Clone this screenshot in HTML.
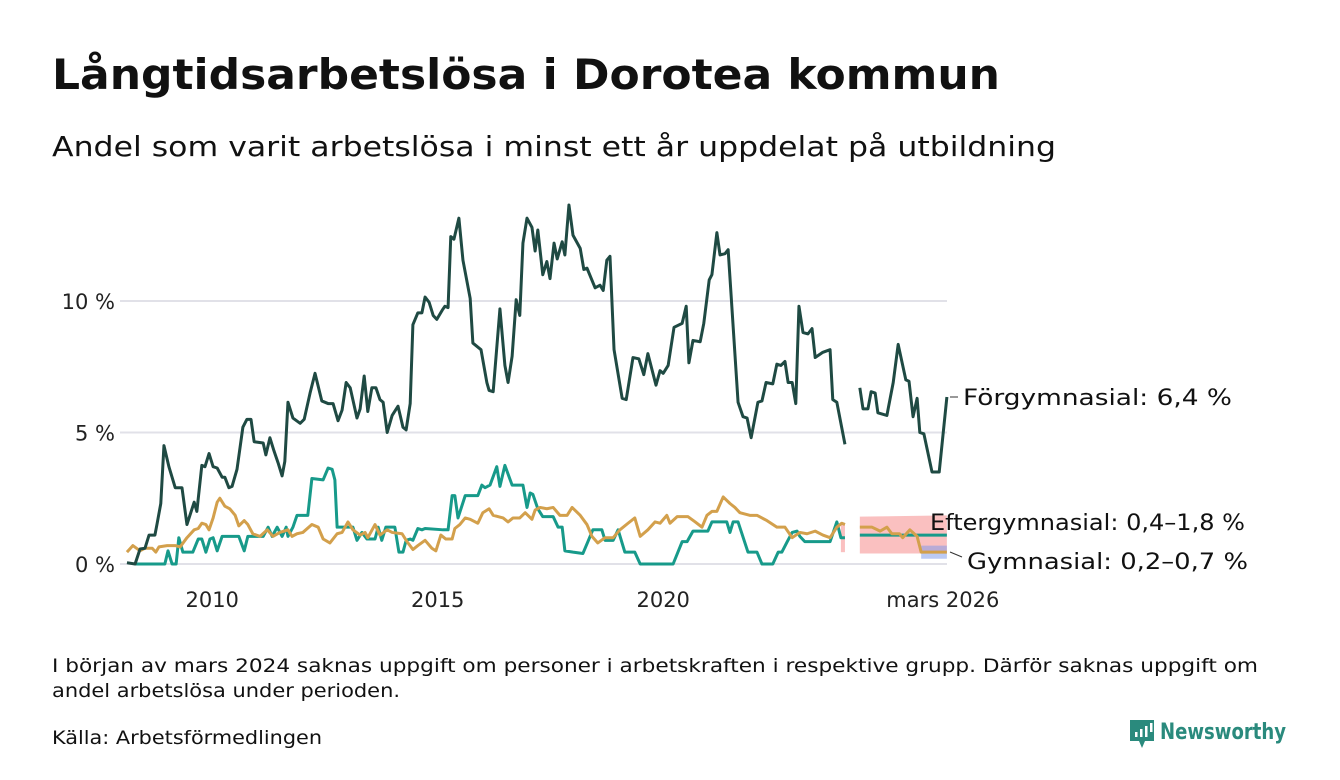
<!DOCTYPE html>
<html><head><meta charset="utf-8"><style>
html,body{margin:0;padding:0;background:#fff}
svg{display:block;font-family:"DejaVu Sans","Liberation Sans",sans-serif}
</style></head><body>
<svg id="chart" width="1340" height="780" viewBox="0 0 1340 780">
<text x="52" y="89" font-size="42" font-weight="bold" fill="#111" textLength="948" lengthAdjust="spacingAndGlyphs">Långtidsarbetslösa i Dorotea kommun</text>
<text x="52" y="156" font-size="28" fill="#111" textLength="1004" lengthAdjust="spacingAndGlyphs">Andel som varit arbetslösa i minst ett år uppdelat på utbildning</text>
<g id="grid"></g>
<g id="bands"></g>
<g id="lines"></g>
<g id="axes"></g>
<line x1="950" y1="397" x2="958" y2="397" stroke="#333" stroke-width="1"/>
<text x="963" y="405" font-size="22" fill="#111" textLength="269" lengthAdjust="spacingAndGlyphs">Förgymnasial: 6,4 %</text>
<text x="930" y="530" font-size="22" fill="#111" textLength="315" lengthAdjust="spacingAndGlyphs">Eftergymnasial: 0,4–1,8 %</text>
<line x1="950" y1="552" x2="962" y2="557" stroke="#333" stroke-width="1"/>
<text x="967" y="569" font-size="22" fill="#111" textLength="281" lengthAdjust="spacingAndGlyphs">Gymnasial: 0,2–0,7 %</text>
<text x="52" y="672" font-size="19" fill="#111" textLength="1206" lengthAdjust="spacingAndGlyphs">I början av mars 2024 saknas uppgift om personer i arbetskraften i respektive grupp. Därför saknas uppgift om</text>
<text x="52" y="697" font-size="19" fill="#111" textLength="348" lengthAdjust="spacingAndGlyphs">andel arbetslösa under perioden.</text>
<text x="52" y="744" font-size="19" fill="#111" textLength="270" lengthAdjust="spacingAndGlyphs">Källa: Arbetsförmedlingen</text>
<g>
<path d="M1130 720 h24 v21 h-9 l-3 7 l-3 -7 h-9 z" fill="#2a8a7d"/>
<rect x="1135" y="732" width="2.5" height="5" fill="#fff"/><rect x="1140" y="729" width="2.5" height="8" fill="#fff"/><rect x="1145" y="726" width="2.5" height="11" fill="#fff"/><rect x="1150" y="723" width="2.5" height="9" fill="#fff"/>
<text x="1160" y="739" font-size="22" font-weight="bold" fill="#2a8a7d" textLength="126" lengthAdjust="spacingAndGlyphs">Newsworthy</text>
</g>
</svg>
<script>
// time in years since 2008
const forT=[0.11,0.29,0.40,0.51,0.60,0.73,0.78,0.86,0.93,1.04,1.18,1.33,1.44,1.60,1.66,1.77,1.84,1.93,2.02,2.11,2.22,2.28,2.37,2.44,2.55,2.68,2.77,2.86,2.93,3.13,3.19,3.28,3.37,3.46,3.55,3.61,3.68,3.79,3.95,4.04,4.17,4.28,4.43,4.57,4.68,4.79,4.88,4.97,5.06,5.21,5.28,5.37,5.45,5.54,5.63,5.72,5.79,5.88,5.99,6.12,6.23,6.30,6.39,6.45,6.56,6.65,6.72,6.81,6.90,6.98,7.10,7.16,7.23,7.29,7.36,7.47,7.56,7.72,7.78,7.96,8.09,8.14,8.23,8.38,8.49,8.56,8.65,8.74,8.82,8.89,8.98,9.09,9.16,9.22,9.33,9.42,9.49,9.58,9.65,9.76,9.82,9.91,10.00,10.16,10.24,10.31,10.49,10.60,10.67,10.75,10.82,10.91,11.09,11.18,11.33,11.46,11.57,11.66,11.84,11.93,12.00,12.11,12.24,12.42,12.51,12.57,12.66,12.82,12.90,13.02,13.08,13.19,13.26,13.37,13.44,13.66,13.77,13.86,13.95,14.10,14.19,14.28,14.43,14.52,14.61,14.70,14.77,14.86,14.94,15.01,15.10,15.21,15.30,15.37,15.54,15.70,15.76,15.85,16.03,16.2,16.36,16.43,16.54,16.61,16.70,16.76,16.96,17.10,17.21,17.38,17.45,17.54,17.63,17.69,17.78,17.96,18.12,18.29];
const forV=[0.05,0,0.57,0.6,1.1,1.1,1.55,2.3,4.5,3.7,2.9,2.9,1.5,2.35,2.0,3.75,3.7,4.2,3.7,3.65,3.3,3.3,2.9,2.95,3.6,5.2,5.5,5.5,4.65,4.6,4.15,4.8,4.3,3.85,3.35,3.9,6.15,5.55,5.35,5.5,6.5,7.25,6.2,6.1,6.1,5.45,5.85,6.9,6.7,5.55,5.9,7.15,5.8,6.7,6.7,6.25,6.15,5.0,5.65,6.0,5.2,5.1,6.1,9.1,9.55,9.55,10.15,9.95,9.45,9.3,9.65,9.8,9.75,12.45,12.35,13.15,11.55,10.1,8.4,8.15,6.9,6.6,6.55,9.7,7.55,6.9,7.9,10.05,9.45,12.2,13.15,12.8,11.9,12.7,11.0,11.5,10.85,12.2,11.6,12.25,11.75,13.65,12.5,12.0,11.2,11.25,10.5,10.6,10.4,11.55,11.7,8.15,6.3,6.25,7.85,7.8,7.2,8.0,6.8,7.35,7.25,7.55,9.0,9.15,9.8,7.65,8.5,8.45,9.15,10.8,11.0,12.6,11.75,11.8,11.95,6.15,5.6,5.55,4.8,6.15,6.2,6.9,6.85,7.6,7.55,7.7,6.9,6.9,6.1,9.8,8.8,8.75,8.95,7.85,8.05,8.15,6.25,6.15,4.55,null,6.7,5.9,5.9,6.55,6.5,5.75,5.65,6.9,8.35,7.0,6.95,5.6,6.3,5.0,4.95,3.5,3.5,6.35];
const eftT=[0.29,0.95,1.02,1.11,1.20,1.26,1.35,1.57,1.69,1.77,1.86,1.95,2.02,2.11,2.22,2.59,2.71,2.79,3.13,3.24,3.33,3.44,3.55,3.64,3.68,3.79,3.88,4.12,4.21,4.46,4.57,4.66,4.72,4.77,5.12,5.21,5.32,5.43,5.61,5.68,5.76,5.85,6.05,6.14,6.23,6.30,6.39,6.45,6.56,6.65,6.72,7.12,7.23,7.32,7.38,7.45,7.61,7.89,7.98,8.05,8.16,8.31,8.38,8.49,8.65,8.89,8.98,9.05,9.11,9.22,9.33,9.56,9.67,9.76,9.82,10.00,10.22,10.33,10.44,10.64,10.71,10.89,11.00,11.15,11.37,11.49,12.22,12.42,12.53,12.66,12.99,13.08,13.41,13.48,13.55,13.66,13.88,14.08,14.19,14.43,14.55,14.63,14.75,14.86,14.97,15.03,15.14,15.70,15.85,15.94,16.03,16.2,16.36,18.29];
const eftV=[0,0,0.5,0,0,1.0,0.45,0.45,0.95,0.95,0.45,0.95,1.0,0.5,1.05,1.05,0.5,1.05,1.05,1.4,1.05,1.4,1.05,1.4,1.05,1.4,1.85,1.85,3.25,3.2,3.65,3.6,3.2,1.4,1.4,0.9,1.2,0.95,0.95,1.4,0.9,1.4,1.4,0.45,0.45,0.9,0.95,0.9,1.35,1.3,1.35,1.3,1.3,2.6,2.6,1.75,2.6,2.6,3.0,2.9,3.0,3.7,2.95,3.75,3.0,3.0,2.15,2.7,2.65,2.1,1.8,1.8,1.4,1.4,0.5,0.45,0.4,0.85,1.3,1.3,0.9,0.9,1.3,0.45,0.45,0,0,0.85,0.85,1.25,1.25,1.6,1.6,1.2,1.6,1.6,0.45,0.45,0,0,0.45,0.45,0.85,1.2,1.25,1.05,0.85,0.85,1.6,1.0,1.0,null,1.1,1.1];
const gymT=[0.11,0.24,0.40,0.51,0.67,0.75,0.82,1.00,1.18,1.29,1.44,1.60,1.69,1.77,1.86,1.93,2.02,2.11,2.17,2.28,2.39,2.51,2.59,2.71,2.79,2.90,3.06,3.22,3.35,3.50,3.68,3.77,3.88,4.01,4.21,4.35,4.46,4.61,4.77,4.88,5.01,5.12,5.28,5.39,5.45,5.61,5.72,5.88,5.99,6.21,6.32,6.45,6.56,6.72,6.87,6.96,7.07,7.18,7.32,7.38,7.49,7.61,7.72,7.89,8.00,8.14,8.23,8.45,8.56,8.67,8.82,8.94,9.09,9.16,9.27,9.42,9.56,9.71,9.87,9.98,10.16,10.31,10.42,10.55,10.71,10.89,11.04,11.22,11.37,11.49,11.66,11.82,11.93,12.08,12.15,12.31,12.55,12.71,12.86,12.97,13.08,13.19,13.33,13.48,13.59,13.70,13.92,14.08,14.19,14.30,14.52,14.70,14.86,15.03,15.19,15.37,15.54,15.70,15.85,15.96,16.03,16.2,16.36,16.63,16.81,16.96,17.07,17.24,17.31,17.47,17.63,17.72,18.29];
const gymV=[0.45,0.7,0.5,0.6,0.6,0.45,0.65,0.7,0.7,0.65,1.0,1.3,1.35,1.55,1.5,1.3,1.75,2.35,2.5,2.2,2.1,1.85,1.45,1.65,1.5,1.15,1.05,1.3,1.05,1.2,1.3,1.05,1.15,1.2,1.5,1.4,0.95,0.8,1.15,1.2,1.6,1.3,1.1,1.2,1.0,1.5,1.1,1.3,1.2,1.15,0.85,0.55,0.7,0.9,0.6,0.5,1.1,0.95,0.95,1.35,1.5,1.75,1.7,1.55,1.95,2.1,1.85,1.75,1.6,1.75,1.75,1.95,1.7,2.05,2.15,2.1,2.15,1.85,1.85,2.15,1.85,1.5,1.05,0.8,1.0,1.0,1.3,1.55,1.75,1.05,1.3,1.6,1.55,1.85,1.55,1.8,1.8,1.6,1.4,1.85,2.0,2.0,2.55,2.3,2.15,1.95,1.85,1.85,1.75,1.65,1.4,1.4,1.0,1.2,1.15,1.25,1.1,1.0,1.4,1.55,1.5,null,1.4,1.4,1.25,1.4,1.15,1.15,1.0,1.3,1.05,0.45,0.45];
// uncertainty bands
const eftBandT=[15.94,16.03,null,16.36,18.29];
const eftBandLo=[0.45,0.45,null,0.4,0.4];
const eftBandHi=[1.55,1.55,null,1.8,1.85];
const gymBandT=[17.72,18.29];
const gymBandLo=[0.2,0.2];
const gymBandHi=[0.7,0.7];
const yTicks=[0,5,10];
const yTickLabels=["0 %","5 %","10 %"];
const xTicks=[2,7,12,18.2];
const xTickLabels=["2010","2015","2020","mars 2026"];

const NS="http://www.w3.org/2000/svg";
const X=t=>122+t*45.1;
const Y=v=>564-v*26.3;
function mk(tag,attrs,parent){const e=document.createElementNS(NS,tag);for(const k in attrs)e.setAttribute(k,attrs[k]);parent.appendChild(e);return e;}
const grid=document.getElementById('grid'),axes=document.getElementById('axes'),bands=document.getElementById('bands'),lines=document.getElementById('lines');
yTicks.forEach((v,i)=>{
  const l=mk('line',{x1:120,x2:947,y1:Y(v),y2:Y(v),stroke:'#e1e1e8','stroke-width':2},grid);
  
  
  const t=mk('text',{x:115,y:Y(v)+8,'text-anchor':'end','font-size':21,fill:'#222'},axes);
  t.textContent=yTickLabels[i];
  
  
});
xTicks.forEach((v,i)=>{
  const t=mk('text',{x:X(v),y:607,'text-anchor':'middle','font-size':21,fill:'#222'},axes);
  t.textContent=xTickLabels[i];
  
  
});
function segs(T,V){const out=[];let cur=[];T.forEach((t,i)=>{if(V[i]===null||t===null){if(cur.length)out.push(cur);cur=[];}else cur.push([X(t),Y(V[i])]);});if(cur.length)out.push(cur);return out;}
function band(T,L,H,color,name){
  const lo=segs(T,L),hi=segs(T,H);
  lo.forEach((s,k)=>{const h=hi[k];const d='M'+h.map(p=>p.join(',')).join('L')+'L'+s.slice().reverse().map(p=>p.join(',')).join('L')+'Z';
    const p=mk('path',{d:d,fill:color},bands);
    
    });
}
band(eftBandT,eftBandLo,eftBandHi,'rgba(245,140,140,0.55)','eftergymnasial-band');
band(gymBandT,gymBandLo,gymBandHi,'rgba(120,150,235,0.5)','gymnasial-band');
function line(T,V,color,name){
  segs(T,V).forEach(s=>{const p=mk('path',{d:'M'+s.map(p=>p.join(',')).join('L'),fill:'none',stroke:color,'stroke-width':3,'stroke-linejoin':'round'},lines);
    
    });
}
line(eftT,eftV,'#179a8a','eftergymnasial-line');
line(gymT,gymV,'#d3a04c','gymnasial-line');
line(forT,forV,'#1f4a43','forgymnasial-line');
</script>
</body></html>
